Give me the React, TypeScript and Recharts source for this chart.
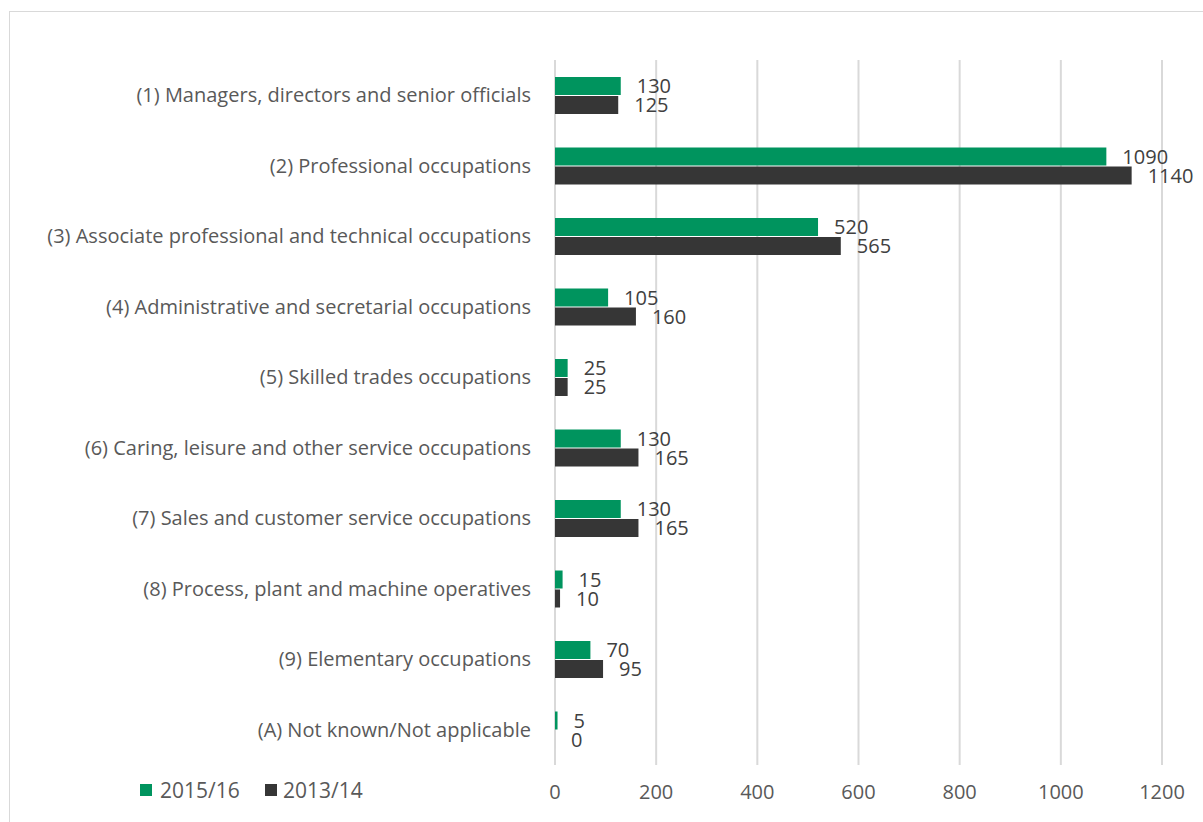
import React from 'react';
import {
  BarChart,
  Bar,
  XAxis,
  YAxis,
  CartesianGrid,
  LabelList,
} from 'recharts';

const categories = [
  '(1) Managers, directors and senior officials',
  '(2) Professional occupations',
  '(3) Associate professional and technical occupations',
  '(4) Administrative and secretarial occupations',
  '(5) Skilled trades occupations',
  '(6) Caring, leisure and other service occupations',
  '(7) Sales and customer service occupations',
  '(8) Process, plant and machine operatives',
  '(9) Elementary occupations',
  '(A) Not known/Not applicable',
];

const values201516 = [130, 1090, 520, 105, 25, 130, 130, 15, 70, 5];
const values201314 = [125, 1140, 565, 160, 25, 165, 165, 10, 95, 0];

const xTicks = [0, 200, 400, 600, 800, 1000, 1200];

const GREEN = '#00945e';
const DARK = '#363636';
const FONT = '"Open Sans", sans-serif';

const data = categories.map((name, i) => ({
  name,
  y2015: values201516[i],
  y2013: values201314[i],
}));

// keeps a zero bar in the layout so its "0" label still shows
const tinyForZero = (v: number) => (v === 0 ? 0.01 : 0);

export default function App() {
  return (
    <div
      style={{
        position: 'absolute',
        left: 0,
        top: 0,
        width: 1203,
        height: 822,
        background: '#fff',
        overflow: 'hidden',
        fontFamily: FONT,
      }}
    >
      <div
        style={{
          position: 'absolute',
          left: 9,
          top: 11,
          width: 1210,
          height: 830,
          border: '1.5px solid #d9d9d9',
        }}
      />
      <BarChart
        layout="vertical"
        width={1203}
        height={822}
        data={data}
        margin={{ top: 60, right: 41, bottom: 17, left: 0 }}
        barSize={18}
        barGap={1}
        style={{ position: 'absolute', left: 0, top: 0 }}
      >
        <CartesianGrid horizontal={false} stroke="#d9d9d9" strokeWidth={2} />
        <XAxis
          type="number"
          domain={[0, 1200]}
          ticks={xTicks}
          axisLine={false}
          tickLine={false}
          height={40}
          tickMargin={14}
          tick={{ fontSize: 20, fill: '#595959', fontFamily: FONT }}
        />
        <YAxis
          type="category"
          dataKey="name"
          width={555}
          axisLine={false}
          tickLine={false}
          tickMargin={18}
          interval={0}
          tick={{ fontSize: 20, fill: '#595959', fontFamily: FONT }}
        />
        <Bar dataKey="y2015" fill={GREEN} isAnimationActive={false}>
          <LabelList
            dataKey="y2015"
            position="right"
            offset={16}
            style={{ fontSize: 20, fill: '#404040', fontFamily: FONT }}
          />
        </Bar>
        <Bar
          dataKey="y2013"
          fill={DARK}
          minPointSize={tinyForZero}
          isAnimationActive={false}
        >
          <LabelList
            dataKey="y2013"
            position="right"
            offset={16}
            style={{ fontSize: 20, fill: '#404040', fontFamily: FONT }}
          />
        </Bar>
      </BarChart>
      <div
        style={{
          position: 'absolute',
          left: 140,
          top: 776,
          display: 'flex',
          alignItems: 'center',
          fontSize: 21,
          color: '#595959',
        }}
      >
        <span style={{ width: 12, height: 12, background: GREEN, display: 'inline-block' }} />
        <span style={{ marginLeft: 8, width: 105 }}>2015/16</span>
        <span style={{ width: 12, height: 12, background: DARK, display: 'inline-block' }} />
        <span style={{ marginLeft: 6 }}>2013/14</span>
      </div>
    </div>
  );
}
